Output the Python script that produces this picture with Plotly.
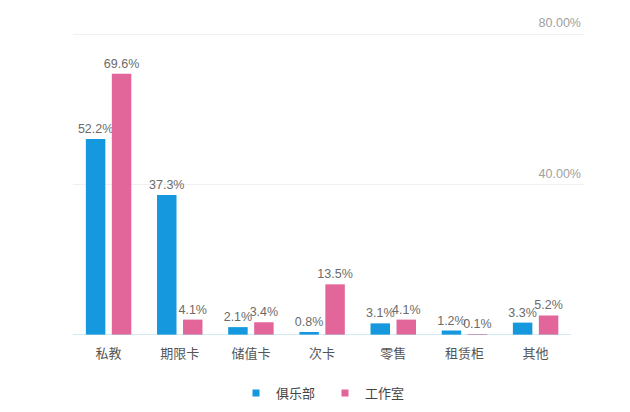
import plotly.graph_objects as go

categories = ["私教", "期限卡", "储值卡", "次卡", "零售", "租赁柜", "其他"]
club_values = [52.2, 37.3, 2.1, 0.8, 3.1, 1.2, 3.3]
studio_values = [69.6, 4.1, 3.4, 13.5, 4.1, 0.1, 5.2]
series_names = ["俱乐部", "工作室"]
y_tickvals = [40, 80]
y_ticktext = ["40.00%", "80.00%"]

BLUE = "#1598dd"
PINK = "#e2669a"
FONT = "Liberation Sans, Arial, Noto Sans CJK SC, sans-serif"

fig = go.Figure()
for name, vals, color in [(series_names[0], club_values, BLUE),
                          (series_names[1], studio_values, PINK)]:
    fig.add_trace(go.Bar(
        x=categories, y=vals, name=name,
        marker=dict(color=color, line=dict(width=0)),
        text=[f"{v:.1f}%" for v in vals],
        textposition="outside",
        constraintext="none",
        cliponaxis=False,
        textfont=dict(size=12.5, color="#6b6b6b", family=FONT),
        showlegend=False,
        hoverinfo="skip",
    ))
    fig.add_trace(go.Scatter(
        x=[None], y=[None], mode="markers", name=name,
        marker=dict(symbol="square", size=7, color=color),
        showlegend=True,
    ))

n = len(categories)
fig.add_shape(type="line", xref="x", yref="y", x0=-0.5, x1=n - 0.5, y0=0, y1=0,
              line=dict(color="#a6d6ea", width=1.2), layer="above")

fig.update_layout(
    width=630, height=412,
    margin=dict(l=65, r=54, t=8, b=85, autoexpand=False),
    paper_bgcolor="white", plot_bgcolor="white",
    barmode="group", bargap=0.27, bargroupgap=0.25,
    font=dict(family=FONT),
    xaxis=dict(
        range=[-0.5, 6.68], showgrid=False, zeroline=False, showline=False,
        ticks="", tickfont=dict(size=13, color="#555555", family="Noto Sans CJK SC, sans-serif"),
        ticklabelstandoff=9, automargin=False,
    ),
    yaxis=dict(
        range=[0, 85], side="right", tickvals=y_tickvals, ticktext=y_ticktext,
        ticklabelposition="inside top", ticklabelshift=-3,
        tickfont=dict(size=12.5, color="#a0a0a0", family=FONT),
        showgrid=True, gridcolor="#f0f0f0", gridwidth=1,
        zeroline=False, showline=False, ticks="", automargin=False,
    ),
    legend=dict(
        orientation="h", x=0.319, xanchor="left", y=-0.182, yanchor="middle",
        font=dict(size=13, color="#444444", family="Noto Sans CJK SC, sans-serif"),
        itemwidth=30, entrywidth=44, traceorder="normal",
    ),
)

fig.write_html("out.html")
